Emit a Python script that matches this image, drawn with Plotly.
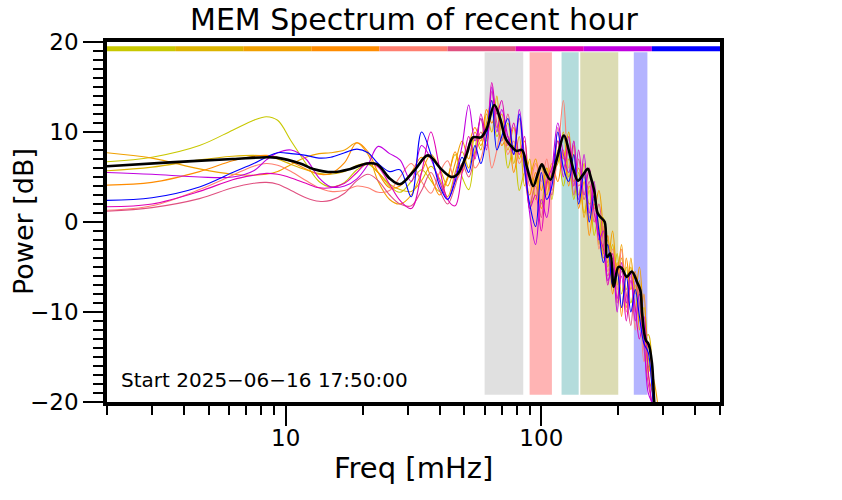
import numpy as np
import plotly.graph_objects as go

# ---------------- data ----------------
freq = [2, 3, 4.6, 6.2, 7.5, 8.4, 9.3, 10.5, 12, 13.5, 15, 17, 19, 21, 23, 25.5, 28,
        31, 34, 37, 40, 43, 46, 49, 52, 55, 58, 61, 64, 67, 70,
        74, 78, 82, 86, 90, 95, 100, 105, 110, 116,
        122, 128, 134, 140, 147, 154, 161, 168, 175, 182,
        190, 198, 206, 215, 224, 233, 242, 252, 262, 275, 290]

series_colors = ['#c8c800', '#dcb400', '#f0a000', '#ff8c00', '#ff7f70',
                 '#e05080', '#e000b4', '#c000e0', '#0000ff']

p_yellow = [6.7, 7.2, 8.5, 10.2, 11.3, 11.7, 11.3, 9.0, 6.5, 4.5, 3.9, 4.4, 5.8, 6.4, 5.5, 4.0, 3.3,
            4.5, 5.8, 4.6, 3.4, 5.0, 7.5, 5.0, 3.6, 8.0, 11.5, 9.0, 12.5, 9.5, 10.5,
            6.0, 8.5, 3.5, 5.5, 1.5, 4.5, 2.0, 6.0, 2.5, 8.0,
            4.0, 7.0, 2.5, 5.5, 1.0, 3.5, -1.5, 1.0, -3.5, -2.0,
            -6.5, -3.5, -8.0, -5.0, -9.0, -7.0, -11.0, -9.5, -15.0, -19.0, -25.0]
p_gold = [5.7, 6.1, 6.9, 7.3, 7.4, 7.3, 7.0, 6.4, 5.8, 5.4, 5.3, 5.6, 6.3, 6.5, 5.5, 4.2, 3.6,
          3.4, 4.6, 6.2, 4.8, 2.8, 5.5, 7.8, 6.0, 9.5, 8.0, 12.0, 10.0, 14.0, 9.0,
          11.0, 6.5, 9.5, 4.0, 7.0, 2.5, 6.5, 3.0, 5.5, 6.5,
          10.0, 5.0, 7.5, 3.0, 6.5, 2.0, 2.5, -2.5, 0.5, -5.0,
          -2.5, -7.0, -4.0, -7.5, -5.0, -10.0, -6.5, -13.0, -12.5, -21.0, -26.0]
p_orange = [7.7, 7.1, 5.9, 5.3, 5.2, 5.3, 5.6, 6.4, 7.2, 7.6, 7.7, 8.0, 8.8, 7.5, 4.5, 2.5, 2.0,
            3.0, 5.5, 7.5, 6.0, 4.0, 6.5, 9.0, 7.0, 10.0, 8.5, 11.0, 13.5, 10.5, 12.0,
            8.0, 10.5, 7.0, 9.0, 5.0, 7.0, 3.5, 6.0, 4.5, 9.0,
            7.0, 10.0, 4.5, 6.0, 0.5, 4.0, 1.5, 3.5, -1.0, -4.5,
            -1.0, -6.0, -2.5, -9.5, -4.0, -8.0, -5.0, -11.5, -16.0, -17.5, -22.0]
p_darkorange = [4.1, 4.4, 5.6, 6.8, 7.3, 7.4, 7.2, 6.7, 5.9, 5.3, 5.4, 6.6, 8.8, 7.8, 5.5, 3.8, 4.0,
                5.5, 7.2, 5.0, 3.0, 4.8, 7.8, 5.5, 8.5, 10.5, 9.0, 12.5, 11.0, 12.5, 8.5,
                9.5, 5.5, 8.0, 6.0, 3.0, 5.5, 1.5, 4.0, 6.5, 4.5,
                8.0, 4.0, 8.5, 1.5, 4.5, -1.5, 2.0, -0.5, -4.0, -1.5,
                -8.0, -4.5, -10.5, -4.0, -7.5, -5.5, -12.0, -8.0, -17.0, -19.5, -24.0]
p_salmon = [1.3, 1.8, 3.6, 5.2, 6.2, 6.5, 6.3, 5.6, 4.6, 3.8, 3.4, 3.5, 4.0, 3.8, 3.3, 3.5, 5.0,
            6.5, 4.5, 3.2, 5.5, 6.8, 4.5, 6.0, 8.5, 6.0, 7.0, 9.5, 6.0, 8.0, 11.0,
            7.5, 9.0, 6.5, 7.5, 4.0, 6.5, 4.5, 7.0, 3.5, 7.5,
            13.5, 6.0, 9.0, 4.0, 5.0, 0.5, 3.5, -3.0, -0.5, -5.5,
            -3.0, -7.5, -3.0, -10.0, -6.0, -12.0, -7.0, -15.5, -13.5, -20.0, -25.0]
p_pink = [1.2, 1.6, 2.6, 3.8, 4.3, 4.4, 4.2, 3.5, 2.7, 2.3, 2.4, 3.2, 4.6, 5.3, 4.6, 3.0, 2.0,
          1.8, 3.5, 5.5, 3.5, 2.0, 4.0, 6.5, 5.0, 7.5, 10.0, 8.5, 14.5, 11.0, 9.0,
          12.0, 8.0, 11.5, 5.5, 2.0, 4.0, 0.5, 5.0, 3.0, 10.5,
          6.0, 8.0, 3.0, 7.0, 2.5, 4.5, 0.0, 2.0, -2.5, -6.0,
          -4.0, -9.0, -5.5, -8.0, -11.5, -6.5, -9.0, -14.0, -18.0, -21.0, -26.0]
p_magenta = [1.7, 2.0, 3.4, 4.7, 5.2, 5.4, 5.3, 4.9, 4.3, 3.8, 3.8, 4.3, 5.5, 6.6, 6.1, 4.2, 2.4,
             1.5, 5.5, 10.0, 6.0, 2.5, 1.8, 5.5, 9.5, 7.0, 12.0, 9.5, 15.5, 12.0, 13.5,
             8.5, 11.0, 7.5, 9.5, 1.5, 3.0, -1.0, 4.5, 6.0, 9.0,
             5.0, 9.5, 4.0, 8.0, 3.0, 6.0, 1.0, -1.5, -3.0, -7.0,
             -3.5, -8.5, -6.0, -11.0, -6.5, -9.5, -13.0, -10.5, -16.5, -22.0, -26.0]
p_purple = [5.5, 5.3, 5.0, 5.0, 5.7, 6.9, 7.7, 8.0, 7.0, 4.9, 3.9, 4.0, 4.8, 6.4, 8.4, 7.6, 6.9,
            4.5, 8.5, 7.0, 4.5, 2.5, 5.0, 8.5, 13.0, 9.0, 11.5, 8.0, 15.0, 10.0, 12.5,
            9.5, 7.5, 12.5, 7.0, 1.0, -2.5, 2.5, 0.5, 5.5, 11.0,
            7.5, 5.5, 9.0, 2.5, 7.5, 1.0, 4.5, -2.0, -1.0, -6.5,
            -5.0, -10.0, -4.5, -9.0, -5.5, -11.0, -8.0, -12.5, -19.0, -20.5, -25.0]
p_blue = [2.4, 2.7, 3.9, 5.5, 6.5, 7.2, 7.7, 7.6, 7.4, 7.1, 7.2, 7.7, 8.1, 7.7, 6.5, 5.6, 5.8,
          2.8, 10.0, 7.5, 4.0, 2.5, 4.5, 7.2, 5.5, 8.5, 6.5, 9.5, 13.5, 8.0, 9.5,
          11.5, 7.5, 12.0, 6.0, 2.0, -0.5, 5.5, 2.5, 4.0, 10.0,
          6.0, 4.5, 7.5, 2.0, 5.5, 0.0, 3.0, -1.0, -4.5, -2.5,
          -7.0, -5.5, -9.5, -6.0, -10.0, -7.5, -10.5, -13.5, -14.5, -20.5, -24.0]

series_values = [p_yellow, p_gold, p_orange, p_darkorange, p_salmon,
                 p_pink, p_magenta, p_purple, p_blue]

mean_freq = [2, 3.4, 6.2, 8.4, 9.2, 11.4, 12.8, 15.3, 17.9, 20.8, 22.8, 25.6, 28, 32, 36,
             40.5, 44.5, 47, 51, 54, 58, 61, 65.5, 69, 72.7, 77, 80, 84, 88, 93, 97,
             100.5, 104, 108.6, 115, 122.7, 128, 133, 139, 146, 152, 156, 161, 166, 171,
             177, 181, 186, 192, 200, 206, 216, 226, 237, 244, 248, 256, 263, 271, 278, 290]
mean_power = [6.2, 6.6, 7.0, 7.2, 7.15, 6.5, 5.9, 5.55, 5.9, 6.5, 6.4, 4.8, 4.2, 5.8, 7.4,
              5.9, 5.0, 5.3, 7.5, 9.4, 9.4, 10.3, 13.0, 11.5, 9.2, 8.3, 7.9, 8.0, 6.0, 4.0, 5.4,
              6.4, 5.5, 4.7, 7.0, 9.6, 8.0, 6.0, 4.6, 5.3, 5.9, 5.0, 3.5, 1.0, 0.5,
              0.0, -3.9, -3.5, -7.2, -5.0, -5.1, -6.1, -5.5, -6.7, -7.6, -10.2, -13.1, -13.6, -15.7, -21, -25]

band_lo = [60, 90, 120, 142, 230]
band_hi = [85, 110, 140, 200, 260]
band_colors = ['#e0e0e0', '#ffb4b4', '#b4dcdc', '#dcdcb4', '#b4b4ff']

x_tick_vals = [10, 100]
x_tick_text = ['10', '100']
x_minor_vals = [2, 3, 4, 5, 6, 7, 8, 9, 20, 30, 40, 50, 60, 70, 80, 90, 200, 300, 400, 500]
y_tick_vals = [-20, -10, 0, 10, 20]
y_tick_text = ['\u221220', '\u221210', '0', '10', '20']

title_text = 'MEM Spectrum of recent hour'
x_title = 'Freq [mHz]'
y_title = 'Power [dB]'
start_text = 'Start 2025\u221206\u221216 17:50:00'

# ---------------- figure ----------------
FONT = 'DejaVu Sans'
XMIN, XMAX = 2, 500
YMIN, YMAX = -20, 20
BAND_Y0, BAND_Y1 = -19.2, 18.85
BAR_Y = 19.25

fig = go.Figure()

for lo, hi, col in zip(band_lo, band_hi, band_colors):
    fig.add_trace(go.Scatter(x=[lo, hi, hi, lo, lo], y=[BAND_Y0, BAND_Y0, BAND_Y1, BAND_Y1, BAND_Y0],
                             fill='toself', fillcolor=col, mode='lines', line=dict(width=0),
                             hoverinfo='skip', showlegend=False))

for vals, col in zip(series_values, series_colors):
    fig.add_trace(go.Scatter(x=freq, y=vals, mode='lines',
                             line=dict(color=col, width=1.1, shape='spline', smoothing=1.0),
                             showlegend=False))

fig.add_trace(go.Scatter(x=mean_freq, y=mean_power, mode='lines',
                         line=dict(color='black', width=2.6, shape='spline', smoothing=1.0), showlegend=False))

edges = np.logspace(np.log10(XMIN), np.log10(XMAX), len(series_colors) + 1)
for i, col in enumerate(series_colors):
    fig.add_trace(go.Scatter(x=[edges[i], edges[i + 1]], y=[BAR_Y, BAR_Y], mode='lines',
                             line=dict(color=col, width=5), hoverinfo='skip', showlegend=False))

axis_common = dict(showline=True, linewidth=3.5, linecolor='black', mirror=True, showgrid=False,
                   zeroline=False, ticks='outside', tickwidth=2, tickcolor='black', automargin=False,
                   tickfont=dict(family=FONT, size=23, color='black'))

fig.update_xaxes(type='log', range=[np.log10(XMIN), np.log10(XMAX)], tickmode='array',
                 tickvals=x_tick_vals, ticktext=x_tick_text, ticklen=20, ticklabelstandoff=-7,
                 minor=dict(tickmode='array', tickvals=x_minor_vals, ticks='outside', ticklen=9,
                            tickwidth=2, tickcolor='black', showgrid=False),
                 **axis_common)
fig.update_yaxes(range=[YMIN, YMAX], tickmode='array', tickvals=y_tick_vals, ticktext=y_tick_text,
                 ticklen=20, minor=dict(dtick=1, ticks='outside', ticklen=10, tickwidth=2,
                                        tickcolor='black', showgrid=False),
                 **axis_common)

fig.update_layout(width=842, height=500, margin=dict(l=107, r=122, t=42, b=98, pad=0),
                  paper_bgcolor='white', plot_bgcolor='white', showlegend=False,
                  font=dict(family=FONT, color='black'))

fig.add_annotation(text=title_text, xref='paper', yref='paper', x=0.5, y=1 + 23 / 360,
                   xanchor='center', yanchor='middle', showarrow=False,
                   font=dict(family=FONT, size=30, color='black'))
fig.add_annotation(text=x_title, xref='paper', yref='paper', x=0.5, y=-(468 - 402) / 360,
                   xanchor='center', yanchor='middle', showarrow=False,
                   font=dict(family=FONT, size=29, color='black'))
fig.add_annotation(text=y_title, xref='paper', yref='paper', x=-(107 - 23) / 613, y=0.5,
                   xanchor='center', yanchor='middle', textangle=-90, showarrow=False,
                   font=dict(family=FONT, size=27, color='black'))
fig.add_annotation(text=start_text, xref='paper', yref='paper', x=(119 - 107) / 613, y=(402 - 380) / 360,
                   xanchor='left', yanchor='middle', showarrow=False,
                   font=dict(family=FONT, size=20, color='black'))

fig.write_html('out.html', config={'displayModeBar': False},
               post_script="document.body.style.margin='0px';document.body.style.overflow='hidden';")
